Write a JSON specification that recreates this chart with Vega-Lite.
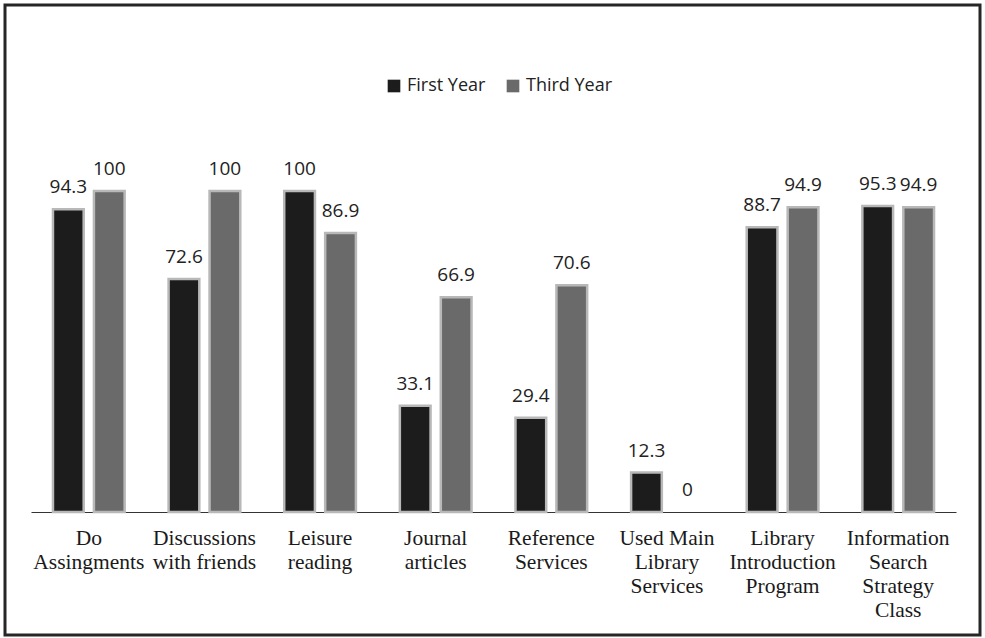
{
  "$schema": "https://vega.github.io/schema/vega-lite/v6.json",
  "autosize": "none",
  "width": 975,
  "height": 630,
  "padding": {"left": 5, "top": 5, "right": 5, "bottom": 3},
  "background": "white",
  "config": {
    "view": {"stroke": "#262626", "strokeWidth": 3}
  },
  "data": {
    "values": [
      {"activity": "Do|Assingments", "year": "First Year", "pct": 94.3},
      {"activity": "Do|Assingments", "year": "Third Year", "pct": 100},
      {"activity": "Discussions|with friends", "year": "First Year", "pct": 72.6},
      {"activity": "Discussions|with friends", "year": "Third Year", "pct": 100},
      {"activity": "Leisure|reading", "year": "First Year", "pct": 100},
      {"activity": "Leisure|reading", "year": "Third Year", "pct": 86.9},
      {"activity": "Journal|articles", "year": "First Year", "pct": 33.1},
      {"activity": "Journal|articles", "year": "Third Year", "pct": 66.9},
      {"activity": "Reference|Services", "year": "First Year", "pct": 29.4},
      {"activity": "Reference|Services", "year": "Third Year", "pct": 70.6},
      {"activity": "Used Main|Library|Services", "year": "First Year", "pct": 12.3},
      {"activity": "Used Main|Library|Services", "year": "Third Year", "pct": 0},
      {"activity": "Library|Introduction|Program", "year": "First Year", "pct": 88.7},
      {"activity": "Library|Introduction|Program", "year": "Third Year", "pct": 94.9},
      {"activity": "Information|Search|Strategy|Class", "year": "First Year", "pct": 95.3},
      {"activity": "Information|Search|Strategy|Class", "year": "Third Year", "pct": 94.9}
    ]
  },
  "encoding": {
    "x": {
      "field": "activity",
      "type": "nominal",
      "sort": null,
      "scale": {"range": [26, 951], "paddingInner": 0.38, "paddingOuter": 0.19},
      "axis": {
        "title": null,
        "labelAngle": 0,
        "labelExpr": "split(datum.value, '|')",
        "labelFont": "Liberation Serif",
        "labelFontSize": 21.5,
        "labelLineHeight": 24,
        "labelColor": "#1a1a1a",
        "labelPadding": 15,
        "labelBaseline": "top",
        "ticks": false,
        "domainColor": "#333333",
        "domainWidth": 1,
        "offset": -123,
        "labelOverlap": false,
        "labelLimit": 0
      }
    },
    "xOffset": {
      "field": "year",
      "type": "nominal",
      "scale": {"paddingInner": 0.25, "paddingOuter": 0}
    },
    "y": {
      "field": "pct",
      "type": "quantitative",
      "scale": {"domain": [0, 100], "range": [507, 186], "nice": false, "zero": true},
      "axis": null
    }
  },
  "layer": [
    {
      "mark": {"type": "bar", "strokeWidth": 2.5},
      "encoding": {
        "stroke": {"condition": {"test": "datum.pct === 0", "value": null}, "value": "#b8b8b8"},
        "color": {
          "field": "year",
          "type": "nominal",
          "scale": {"domain": ["First Year", "Third Year"], "range": ["#1c1c1c", "#6a6a6a"]},
          "legend": {
            "title": null,
            "orient": "none",
            "legendX": 380,
            "legendY": 72,
            "direction": "horizontal",
            "symbolType": "square",
            "symbolSize": 160,
            "symbolStrokeWidth": 0,
            "labelFont": "Open Sans",
            "labelFontSize": 18,
            "labelColor": "#222222",
            "labelOffset": 4,
            "columnPadding": 18,
            "padding": 0
          }
        }
      }
    },
    {
      "mark": {"type": "text", "baseline": "alphabetic", "dy": -16, "font": "Open Sans", "fontSize": 19, "color": "#222222"},
      "encoding": {
        "text": {"field": "pct", "type": "quantitative", "format": "~g"}
      }
    }
  ]
}
